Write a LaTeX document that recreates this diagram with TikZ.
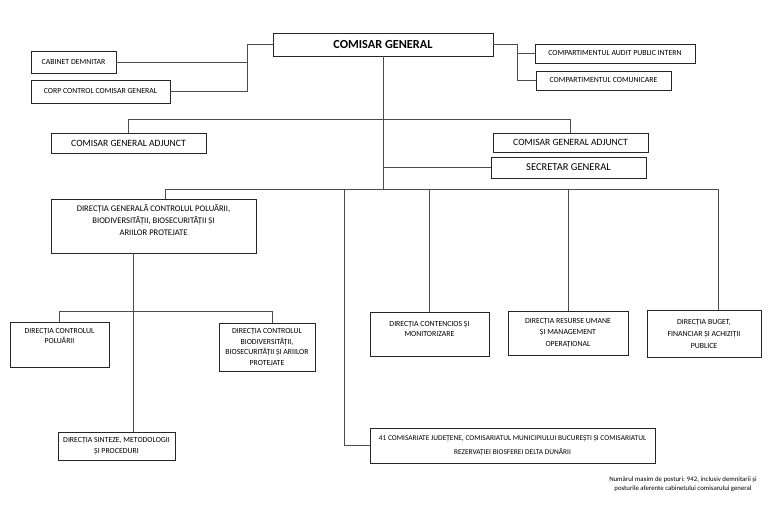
\documentclass[tikz,border=0pt]{standalone}
\usepackage{fontspec}
\setmainfont{Carlito}
\usepackage{tikz}

\begin{document}
\begin{tikzpicture}[x=1pt, y=-1pt,
        every node/.style = {shape=rectangle, align=center, inner sep=1pt},
        box/.style = {draw=black!85, line width=0.8pt, fill=white},
        small/.style = {font=\fontsize{7.8}{10.5}\selectfont},
        mid/.style = {font=\fontsize{9.6}{11}\selectfont},
        link/.style = {draw=black!70, line width=0.8pt}]
    \useasboundingbox (0,0) rectangle (774,510);

    \node[box, minimum width=220, minimum height=23, font=\fontsize{12.3}{14}\selectfont\bfseries] (cg) at (383,44.5) {COMISAR GENERAL};

    \node[box, small, minimum width=85, minimum height=22] (cab) at (73.5,62) {CABINET DEMNITAR};
    \node[box, small, minimum width=139, minimum height=23] (corp) at (100.5,91.5) {CORP CONTROL COMISAR GENERAL};
    \node[box, small, minimum width=160, minimum height=19] (audit) at (615,53.5) {COMPARTIMENTUL AUDIT PUBLIC INTERN};
    \node[box, small, minimum width=135, minimum height=19] (comunic) at (603.5,80.5) {COMPARTIMENTUL COMUNICARE};

    \node[box, mid, minimum width=155, minimum height=20] (adjst) at (128.5,143) {COMISAR GENERAL ADJUNCT};
    \node[box, mid, minimum width=155, minimum height=19] (adjdr) at (570.5,142.5) {COMISAR GENERAL ADJUNCT};
    \node[box, minimum width=155, minimum height=21, font=\fontsize{10.5}{12}\selectfont] (sec) at (568.5,167.5) {SECRETAR GENERAL};

    \node[box, minimum width=205, minimum height=54, text depth=12pt, font=\fontsize{8.6}{12}\selectfont] (dg) at (153.5,226)
        {DIRECȚIA GENERALĂ CONTROLUL POLUĂRII,\\ BIODIVERSITĂȚII, BIOSECURITĂȚII ȘI\\ ARIILOR PROTEJATE};
    \node[box, small, minimum width=99, minimum height=45, text depth=17pt] (ctrlpol) at (59.5,344.5)
        {DIRECȚIA CONTROLUL\\ POLUĂRII};
    \node[box, small, minimum width=96, minimum height=48] (ctrlbio) at (267,347)
        {DIRECȚIA CONTROLUL\\ BIODIVERSITĂȚII,\\ BIOSECURITĂȚII ȘI ARIILOR\\ PROTEJATE};
    \node[box, small, minimum width=117, minimum height=28] (sint) at (116.5,446)
        {DIRECȚIA SINTEZE, METODOLOGII\\ ȘI PROCEDURI};

    \node[box, small, minimum width=119, minimum height=44, text depth=10pt] (cont) at (429.5,334)
        {DIRECȚIA CONTENCIOS ȘI\\ MONITORIZARE};
    \node[box, minimum width=120, minimum height=44, font=\fontsize{7.8}{11.5}\selectfont] (res) at (568,333)
        {DIRECȚIA RESURSE UMANE\\ ȘI MANAGEMENT\\ OPERAȚIONAL};
    \node[box, minimum width=114, minimum height=47, font=\fontsize{7.8}{12}\selectfont] (buget) at (704,333.5)
        {DIRECȚIA BUGET,\\ FINANCIAR ȘI ACHIZIȚII\\ PUBLICE};
    \node[box, minimum width=285, minimum height=35, font=\fontsize{7.4}{14}\selectfont] (com41) at (512.5,445.5)
        {41 COMISARIATE JUDEȚENE, COMISARIATUL MUNICIPIULUI BUCUREȘTI ȘI COMISARIATUL\\ REZERVAȚIEI BIOSFEREI DELTA DUNĂRII};

    \node[font=\fontsize{6.8}{9}\selectfont] (nota) at (683,484.5)
        {Numărul maxim de posturi: 942, inclusiv demnitarii și\\ posturile aferente cabinetului comisarului general};

    \coordinate (bus) at (383,189);
    \coordinate (dir) at (344,189);

    \draw[link] (cg.west) -- ++(-25,0) coordinate (jst) |- (corp.east);
    \draw[link] (jst) |- (cab.east);
    \draw[link] (cg.east) -- ++(24,0) coordinate (jdr) |- (comunic.west);
    \draw[link] (jdr) |- (audit.west);

    \draw[link] (cg.south) -- (bus);
    \draw[link] (adjst.north) -- ++(0,-13) -| (adjdr.north);
    \draw[link] (sec.west) -- (sec.west -| bus);

    \draw[link] ([xshift=12pt]dg.north) |- ([xshift=14pt]buget.north |- bus) -- ([xshift=14pt]buget.north);
    \draw[link] (cont.north) -- (cont.north |- bus);
    \draw[link] (res.north) -- (res.north |- bus);
    \draw[link] (dir) |- (com41.west);

    \draw[link] ([xshift=-20pt]dg.south) -- ([xshift=-20pt]dg.south |- sint.north);
    \draw[link] (ctrlpol.north) -- ++(0,-10) -| ([xshift=5pt]ctrlbio.north);
\end{tikzpicture}
\end{document}
